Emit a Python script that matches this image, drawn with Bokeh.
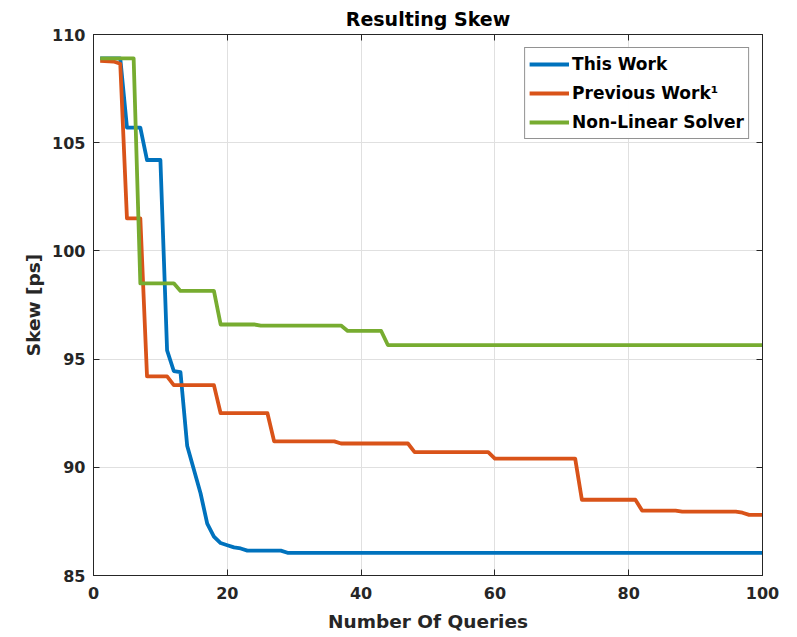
from bokeh.plotting import figure
from bokeh.models import Legend, LegendItem, LinearAxis, FixedTicker, CustomJSTickFormatter, Range1d
from bokeh.embed import file_html
from bokeh.resources import INLINE

# ---- data ----
this_work_x = [1, 4, 5, 7, 8, 10, 11, 12, 13, 14, 15, 16, 17, 18, 19, 20, 21, 22, 23, 28, 29, 100]
this_work_y = [108.9, 108.9, 105.7, 105.7, 104.2, 104.2, 95.4, 94.45, 94.4, 91.0, 89.9, 88.8, 87.4,
               86.8, 86.5, 86.4, 86.3, 86.25, 86.15, 86.15, 86.05, 86.05]

prev_work_x = [1, 3, 4, 5, 7, 8, 11, 12, 18, 19, 26, 27, 36, 37, 47, 48, 59, 60, 72, 73, 81, 82,
               87, 88, 96, 97, 98, 100]
prev_work_y = [108.78, 108.75, 108.65, 101.5, 101.5, 94.2, 94.2, 93.8, 93.8, 92.5, 92.5, 91.2, 91.2,
               91.1, 91.1, 90.7, 90.7, 90.4, 90.4, 88.5, 88.5, 88.0, 88.0, 87.95, 87.95, 87.9,
               87.8, 87.8]

nls_x = [1, 6, 7, 12, 13, 18, 19, 24, 25, 37, 38, 43, 44, 100]
nls_y = [108.9, 108.9, 98.5, 98.5, 98.15, 98.15, 96.6, 96.6, 96.55, 96.55, 96.3, 96.3, 95.65, 95.65]

series_names = ["This Work", "Previous Work\u00b9", "Non-Linear Solver"]
series_colors = ["#0072BD", "#D95319", "#77AC30"]

x_ticks = [0, 20, 40, 60, 80, 100]
y_ticks = [85, 90, 95, 100, 105, 110]

FONT = "DejaVu Sans"
AX = "#262626"

p = figure(width=797, height=637, output_backend="svg", toolbar_location=None,
           x_range=Range1d(0, 100), y_range=Range1d(85, 110),
           min_border_left=93, min_border_right=35, min_border_top=34, min_border_bottom=62,
           title="Resulting Skew")
p.background_fill_color = "white"
p.border_fill_color = "white"
p.outline_line_color = AX
p.outline_line_width = 1

p.title.text_font = FONT
p.title.text_font_size = "19px"
p.title.text_font_style = "bold"
p.title.text_color = "black"
p.title.align = "center"

for ax in [p.xaxis[0], p.yaxis[0]]:
    ax.major_label_text_font = FONT
    ax.major_label_text_font_size = "16px"
    ax.major_label_text_font_style = "bold"
    ax.major_label_text_color = AX
    ax.axis_label_text_font = FONT
    ax.axis_label_text_font_size = "18.5px"
    ax.axis_label_text_font_style = "bold"
    ax.axis_label_text_color = AX
    ax.axis_line_color = AX
    ax.major_tick_line_color = AX
    ax.major_tick_in = 6
    ax.major_tick_out = 0
    ax.minor_tick_line_color = None

p.xaxis[0].ticker = FixedTicker(ticks=x_ticks)
p.yaxis[0].ticker = FixedTicker(ticks=y_ticks)
p.xaxis[0].axis_label = "Number Of Queries"
p.yaxis[0].axis_label = "Skew [ps]"
p.xaxis[0].major_label_standoff = 11
p.yaxis[0].major_label_standoff = 8
p.xaxis[0].axis_label_standoff = 9
p.yaxis[0].axis_label_standoff = 5

# box ticks on top and right
blank = CustomJSTickFormatter(code="return '';")
top_ax = LinearAxis(ticker=FixedTicker(ticks=x_ticks), formatter=blank,
                    major_tick_in=6, major_tick_out=0, minor_tick_line_color=None,
                    axis_line_color=AX, major_tick_line_color=AX, major_label_standoff=0)
right_ax = LinearAxis(ticker=FixedTicker(ticks=y_ticks), formatter=blank,
                      major_tick_in=6, major_tick_out=0, minor_tick_line_color=None,
                      axis_line_color=AX, major_tick_line_color=AX, major_label_standoff=0)
p.add_layout(top_ax, "above")
p.add_layout(right_ax, "right")

p.xgrid.ticker = FixedTicker(ticks=x_ticks)
p.ygrid.ticker = FixedTicker(ticks=y_ticks)
p.grid.grid_line_color = "#e0e0e0"
p.grid.grid_line_width = 1

renderers = []
for xs, ys, c in [(this_work_x, this_work_y, series_colors[0]),
                  (prev_work_x, prev_work_y, series_colors[1]),
                  (nls_x, nls_y, series_colors[2])]:
    r = p.line(xs, ys, line_color=c, line_width=3.8, line_join="round")
    renderers.append(r)

legend = Legend(items=[LegendItem(label=n, renderers=[r]) for n, r in zip(series_names, renderers)],
                location="top_right")
legend.label_text_font = FONT
legend.label_text_font_size = "17px"
legend.label_text_font_style = "bold"
legend.label_text_color = "black"
legend.glyph_width = 40
legend.glyph_height = 24
legend.label_height = 24
legend.label_standoff = 3
legend.spacing = 5
legend.padding = 4
legend.margin = 13
legend.border_line_color = AX
legend.border_line_width = 1
legend.background_fill_color = "white"
p.add_layout(legend)

open("out.html", "w").write(file_html(p, INLINE))
